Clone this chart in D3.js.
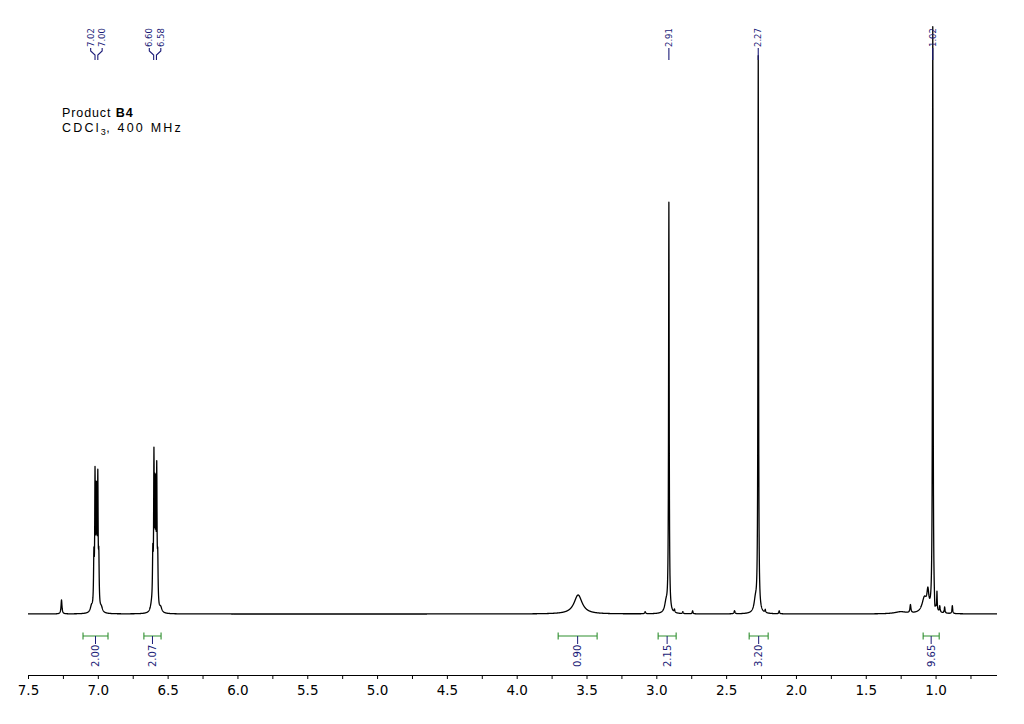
<!DOCTYPE html>
<html>
<head>
<meta charset="utf-8">
<script src="https://cdn.jsdelivr.net/npm/d3@7/dist/d3.min.js"></script>
<style>
html,body{margin:0;padding:0;background:#fff;}
svg{display:block;}
</style>
</head>
<body>
<svg id="chart" width="1024" height="724"></svg>
<script>
// ---- Data ----
// Spectrum lines: chemical shift (ppm), intensity (arb.), half-width (ppm)
const peakPpm    = [7.26, 7.045, 7.028, 7.02, 7.013, 7.007, 7.00, 6.993, 6.975,
                    6.615, 6.606, 6.598, 6.591, 6.585, 6.578, 6.571, 6.55,
                    3.56, 3.08, 2.93, 2.91, 2.87, 2.81, 2.74, 2.44, 2.29, 2.27, 2.22, 2.12,
                    1.25, 1.18, 1.08, 1.055, 1.02, 1.005, 0.99, 0.97, 0.935, 0.88];
const peakHeight = [14, 6, 50, 128, 100, 100, 124, 48, 5,
                    6, 50, 146, 105, 105, 132, 46, 5,
                    19, 2, 10, 409, 3, 2, 3, 3, 12, 555, 3, 3,
                    2, 8, 15, 18, 585, -9, 18, 6, 6, 8];
const peakWidth  = [0.004, 0.01, 0.003, 0.0025, 0.002, 0.002, 0.0025, 0.003, 0.01,
                    0.01, 0.003, 0.0025, 0.002, 0.002, 0.0025, 0.003, 0.01,
                    0.035, 0.004, 0.012, 0.0025, 0.003, 0.003, 0.003, 0.004, 0.012, 0.0025, 0.003, 0.003,
                    0.05, 0.004, 0.02, 0.008, 0.0025, 0.003, 0.002, 0.003, 0.003, 0.003];

// Peak-pick labels
const labelPpm  = [7.02, 7.00, 6.60, 6.58, 2.91, 2.27, 1.02];
const labelText = ["7.02", "7.00", "6.60", "6.58", "2.91", "2.27", "1.02"];
const labelGroup = [0, 0, 1, 1, 2, 3, 4];

// Integrals
const intFrom  = [7.106, 6.670, 3.703, 2.987, 2.335, 1.089];
const intTo    = [6.927, 6.547, 3.424, 2.858, 2.199, 0.974];
const intValue = ["2.00", "2.07", "0.90", "2.15", "3.20", "9.65"];

// Axis
const majorTicks = [7.5, 7.0, 6.5, 6.0, 5.5, 5.0, 4.5, 4.0, 3.5, 3.0, 2.5, 2.0, 1.5, 1.0];
const minorTicks = [7.25, 6.75, 6.25, 5.75, 5.25, 4.75, 4.25, 3.75, 3.25, 2.75, 2.25, 1.75, 1.25, 0.75];
const ppmRange = [7.5, 0.56];

// ---- Drawing ----
const svg = d3.select("#chart");
const navy = "#1c1c78";
const green = "#2f8f2f";

const x = d3.scaleLinear().domain(ppmRange).range([28, 997]);
const y = d3.scaleLinear().domain([0, 594]).range([614, 20]);

// sample points (include peak centres)
let samples = d3.range(ppmRange[1], ppmRange[0] + 1e-9, 0.001).concat(peakPpm);
samples = samples.filter(v => v >= ppmRange[1] && v <= ppmRange[0]).sort((a, b) => a - b);
const spectrum = samples.map(p => {
  let s = 0;
  for (let i = 0; i < peakPpm.length; i++) {
    const t = (p - peakPpm[i]) / peakWidth[i];
    s += peakHeight[i] / (1 + t * t);
  }
  return [p, s];
});

svg.append("defs").append("clipPath").attr("id", "clip")
  .append("rect").attr("x", 20).attr("y", 18).attr("width", 990).attr("height", 640);

svg.append("path")
  .datum(spectrum)
  .attr("clip-path", "url(#clip)")
  .attr("fill", "none")
  .attr("stroke", "#000")
  .attr("stroke-width", 1.3)
  .attr("stroke-linejoin", "round")
  .attr("d", d3.line().x(d => x(d[0])).y(d => y(d[1])));

// Axis
const axisY = 675;
const axis = d3.axisBottom(x)
  .tickValues(majorTicks.concat(minorTicks))
  .tickSize(4)
  .tickFormat(d => majorTicks.includes(d) ? d3.format(".1f")(d) : "");
const ag = svg.append("g").attr("transform", `translate(0,${axisY})`).call(axis);
ag.select(".domain").attr("d", `M${x(ppmRange[0])},0.5H${x(ppmRange[1])}`).attr("stroke", "#000");
ag.selectAll(".tick line").attr("stroke", "#000");
ag.selectAll(".tick text")
  .attr("font-family", "DejaVu Sans, Verdana, sans-serif")
  .attr("font-size", 13.5)
  .attr("fill", "#000")
  .attr("y", 7)
  .attr("dy", "0.95em");

// Peak labels
const lg = svg.append("g");
const groups = d3.group(labelPpm.map((p, i) => ({p, t: labelText[i], g: labelGroup[i]})), d => d.g);
groups.forEach(items => {
  const n = items.length;
  const mean = d3.mean(items, d => x(d.p));
  items.forEach((d, k) => {
    const px = x(d.p);
    const lx = n > 1 ? mean + (k - (n - 1) / 2) * 11.5 : px;
    lg.append("text")
      .attr("transform", `translate(${lx},47) rotate(-90)`)
      .attr("text-anchor", "start")
      .attr("dominant-baseline", "central")
      .attr("font-family", "DejaVu Sans, Verdana, sans-serif")
      .attr("font-size", 8.5)
      .attr("fill", navy)
      .text(d.t);
    lg.append("path")
      .attr("fill", "none")
      .attr("stroke", navy)
      .attr("stroke-width", 1.1)
      .attr("d", `M${lx},48V51L${px},55V60`);
  });
});

// Integrals
const ig = svg.append("g");
intFrom.forEach((f, i) => {
  const x1 = x(f), x2 = x(intTo[i]);
  const xc = (x1 + x2) / 2;
  const by = 636;
  ig.append("path")
    .attr("fill", "none")
    .attr("stroke", green)
    .attr("stroke-width", 1.1)
    .attr("d", `M${x1},${by}H${x2}M${x1},${by - 3.5}V${by + 3.5}M${x2},${by - 3.5}V${by + 3.5}`);
  ig.append("path")
    .attr("stroke", navy)
    .attr("stroke-width", 1)
    .attr("d", `M${xc},${by}V${by + 8}`);
  ig.append("text")
    .attr("transform", `translate(${xc},667) rotate(-90)`)
    .attr("text-anchor", "start")
    .attr("dominant-baseline", "central")
    .attr("font-family", "DejaVu Sans, Verdana, sans-serif")
    .attr("font-size", 10)
    .attr("fill", navy)
    .text(intValue[i]);
});

// Title
const tg = svg.append("g")
  .attr("font-family", "Liberation Sans, Arial, sans-serif")
  .attr("font-size", 12.5)
  .attr("fill", "#000");
const t1 = tg.append("text").attr("x", 62).attr("y", 117).attr("letter-spacing", 0.9);
t1.append("tspan").text("Product ");
t1.append("tspan").attr("font-weight", "bold").text("B4");
const t2 = tg.append("text").attr("x", 62).attr("y", 132).attr("letter-spacing", 2.2);
t2.append("tspan").text("CDCl");
t2.append("tspan").attr("font-size", 9).attr("dy", 3).attr("letter-spacing", 0.5).text("3");
t2.append("tspan").attr("dy", -3).text(", 400 MHz");
</script>
</body>
</html>
